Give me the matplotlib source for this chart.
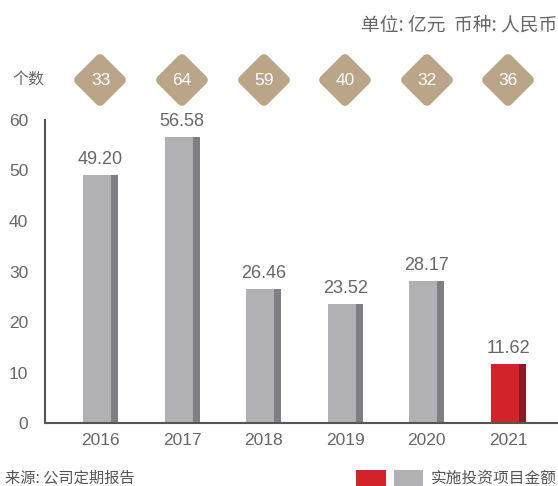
import matplotlib
matplotlib.use("Agg")
import matplotlib.pyplot as plt
from matplotlib.markers import MarkerStyle
from matplotlib.patches import Rectangle

plt.rcParams["font.family"] = ["Liberation Sans", "Noto Sans CJK SC", "DejaVu Sans"]

years = ["2016", "2017", "2018", "2019", "2020", "2021"]
amounts = [49.20, 56.58, 26.46, 23.52, 28.17, 11.62]
counts = [33, 64, 59, 40, 32, 36]
yticks = [0, 10, 20, 30, 40, 50, 60]

GRAY, GRAY_D = "#b1b1b4", "#7f7f83"
RED, RED_D = "#d2232a", "#8c1a20"
TAN = "#bba588"
TXT = "#666666"
CJK = ["Noto Sans CJK SC", "DejaVu Sans"]

fig = plt.figure(figsize=(5.58, 4.86), dpi=100)
ax = fig.add_axes([45 / 558, 63 / 486, 513 / 558, 303 / 486])

x = list(range(len(years)))
w_main, w_side = 0.343, 0.086
for i, v in enumerate(amounts):
    fc, sc = (RED, RED_D) if years[i] == "2021" else (GRAY, GRAY_D)
    left = i - (w_main + w_side) / 2
    ax.bar(left, v, w_main, align="edge", color=fc, lw=0)
    ax.bar(left + w_main, v, w_side, align="edge", color=sc, lw=0)
    ax.annotate(f"{v:.2f}", (i, v), xytext=(0, 5), textcoords="offset points",
                ha="center", va="bottom", fontsize=13, color=TXT)

# count diamonds above the plot
dm = MarkerStyle("D", joinstyle="round")
ax.plot(x, [67.9] * len(x), ls="none", marker=dm, ms=21.5, mfc=TAN, mec=TAN,
        mew=7, clip_on=False)
for i, c in enumerate(counts):
    ax.text(i, 67.9, str(c), ha="center", va="center", fontsize=12.5,
            color="white", clip_on=False)

ax.set_xlim(-0.68, 5.607)
ax.set_ylim(0, 60)
ax.set_xticks(x)
ax.set_xticklabels(years)
ax.set_yticks(yticks)
ax.tick_params(length=0, labelsize=12.5, labelcolor=TXT)
ax.tick_params(axis="y", pad=12)
ax.tick_params(axis="x", pad=7)
for s in ("top", "right"):
    ax.spines[s].set_visible(False)
for s in ("left", "bottom"):
    ax.spines[s].set_color("#555555")
    ax.spines[s].set_linewidth(1.5)

fig.text(12 / 558, 1 - 80 / 486, "个数", family=CJK, fontsize=11.5,
         color=TXT, va="center", ha="left")
fig.text(557 / 558, 1 - 25 / 486, "单位: 亿元  币种: 人民币", family=CJK,
         fontsize=13.5, color=TXT, va="center", ha="right", style="italic")
fig.text(5 / 558, 1 - 478 / 486, "来源: 公司定期报告", family=CJK,
         fontsize=11, color="#555555", va="center", ha="left")

# legend swatches
fig.patches.append(Rectangle((356 / 558, 1 - 486 / 486), 30 / 558, 16 / 486,
                             transform=fig.transFigure, color=RED, lw=0))
fig.patches.append(Rectangle((394 / 558, 1 - 486 / 486), 29 / 558, 16 / 486,
                             transform=fig.transFigure, color=GRAY, lw=0))
fig.text(431 / 558, 1 - 478 / 486, "实施投资项目金额", family=CJK,
         fontsize=11.3, color="#555555", va="center", ha="left")

fig.savefig("out.png", dpi=100)
